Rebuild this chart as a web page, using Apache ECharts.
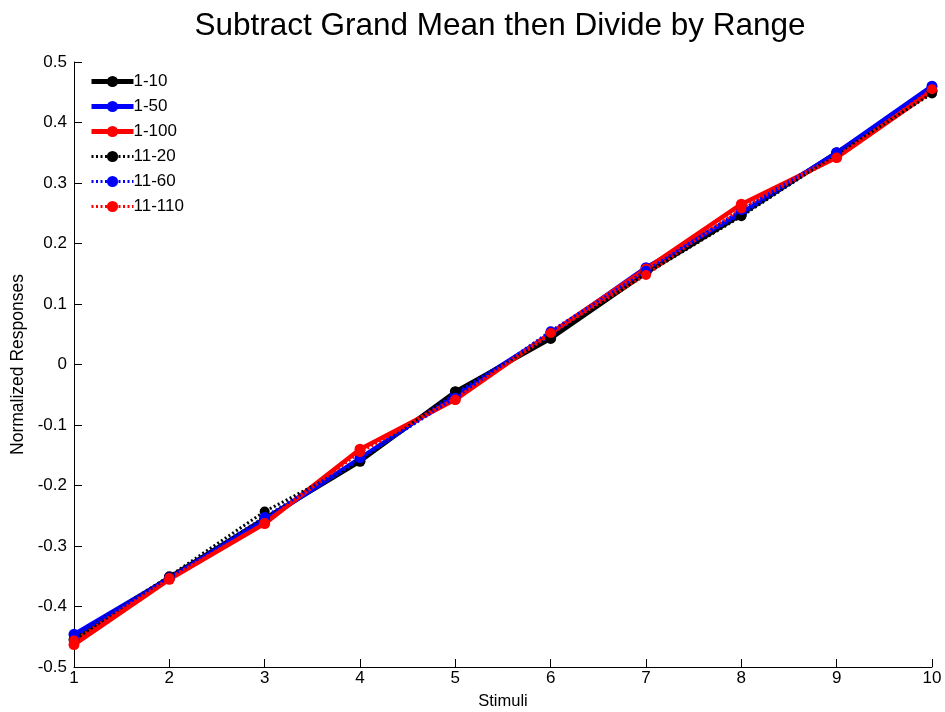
<!DOCTYPE html>
<html>
<head>
<meta charset="utf-8">
<script src="https://cdn.jsdelivr.net/npm/echarts@6/dist/echarts.min.js"></script>
<style>
  html, body { margin: 0; padding: 0; background: #fff; }
  #chart { width: 945px; height: 712px; }
</style>
</head>
<body>
<div id="chart"></div>
<script>
// Stimulus levels along the x axis
const stimuli = [1, 2, 3, 4, 5, 6, 7, 8, 9, 10];

// Normalized responses per stimulus range
const range_1_10   = [-0.455, -0.352, -0.255, -0.160, -0.045, 0.043, 0.152, 0.248, 0.350, 0.452];
const range_1_50   = [-0.446, -0.353, -0.258, -0.155, -0.050, 0.050, 0.160, 0.250, 0.350, 0.460];
const range_1_100  = [-0.463, -0.355, -0.263, -0.140, -0.058, 0.052, 0.158, 0.265, 0.342, 0.452];
const range_11_20  = [-0.450, -0.350, -0.243, -0.160, -0.045, 0.045, 0.150, 0.245, 0.348, 0.448];
const range_11_60  = [-0.450, -0.352, -0.252, -0.155, -0.055, 0.055, 0.155, 0.255, 0.350, 0.460];
const range_11_110 = [-0.456, -0.353, -0.262, -0.145, -0.058, 0.052, 0.148, 0.258, 0.342, 0.455];

// Y tick values
const yTicks = [-0.5, -0.4, -0.3, -0.2, -0.1, 0, 0.1, 0.2, 0.3, 0.4, 0.5];

const FONT = 'Liberation Sans, Arial, sans-serif';
const DOT_DASH = [2, 2.5];

function pairs(values) {
  return stimuli.map((s, i) => [s, values[i]]);
}

function solid(name, values, color) {
  return {
    name, type: 'line', data: pairs(values),
    symbol: 'circle', symbolSize: 11,
    itemStyle: { color },
    lineStyle: { color, width: 4.5, type: 'solid' },
    emphasis: { disabled: true },
    animation: false
  };
}

function dotted(name, values, color) {
  return {
    name, type: 'line', data: pairs(values),
    symbol: 'circle', symbolSize: 10,
    itemStyle: { color },
    lineStyle: { color, width: 3, type: DOT_DASH },
    emphasis: { disabled: true },
    animation: false
  };
}

const chart = echarts.init(document.getElementById('chart'), null, { renderer: 'canvas' });

chart.setOption({
  backgroundColor: '#ffffff',
  textStyle: { fontFamily: FONT },
  graphic: [{
    type: 'text',
    x: 500, y: 26,
    style: {
      text: 'Subtract Grand Mean then Divide by Range',
      font: '31.5px ' + FONT,
      fill: '#000',
      textAlign: 'center',
      textVerticalAlign: 'middle'
    }
  }],
  grid: {
    left: 74, right: 13, top: 62, bottom: 45,
    containLabel: false,
    outerBoundsMode: 'none'
  },
  legend: {
    orient: 'vertical',
    left: 84, top: 68,
    itemWidth: 42, itemHeight: 14,
    itemGap: 8,
    textStyle: { fontFamily: FONT, fontSize: 17, color: '#000', padding: [0, 0, 0, -5] },
    data: [
      { name: '1-10', lineStyle: { width: 5, type: 'solid' } },
      { name: '1-50', lineStyle: { width: 5, type: 'solid' } },
      { name: '1-100', lineStyle: { width: 5, type: 'solid' } },
      { name: '11-20', lineStyle: { width: 3, type: DOT_DASH } },
      { name: '11-60', lineStyle: { width: 3, type: DOT_DASH } },
      { name: '11-110', lineStyle: { width: 3, type: DOT_DASH } }
    ]
  },
  xAxis: {
    type: 'value',
    min: 1, max: 10, interval: 1,
    name: 'Stimuli',
    nameLocation: 'middle',
    nameGap: 26,
    nameTextStyle: { fontFamily: FONT, fontSize: 16.5, color: '#000' },
    axisLine: { onZero: false, lineStyle: { color: '#000', width: 1 } },
    axisTick: { inside: true, length: 8, lineStyle: { color: '#000' } },
    axisLabel: { fontFamily: FONT, fontSize: 17, color: '#000', margin: 3 },
    splitLine: { show: false }
  },
  yAxis: {
    type: 'value',
    min: yTicks[0], max: yTicks[yTicks.length - 1], interval: 0.1,
    name: 'Normalized Responses',
    nameLocation: 'middle',
    nameGap: 44,
    nameTextStyle: { fontFamily: FONT, fontSize: 17.5, color: '#000' },
    axisLine: { onZero: false, lineStyle: { color: '#000', width: 1 } },
    axisTick: { inside: true, length: 8, lineStyle: { color: '#000' } },
    axisLabel: {
      fontFamily: FONT, fontSize: 17, color: '#000', margin: 7,
      formatter: v => String(Math.round(v * 10) / 10)
    },
    splitLine: { show: false }
  },
  series: [
    solid('1-10', range_1_10, '#000000'),
    solid('1-50', range_1_50, '#0000ff'),
    solid('1-100', range_1_100, '#ff0000'),
    dotted('11-20', range_11_20, '#000000'),
    dotted('11-60', range_11_60, '#0000ff'),
    dotted('11-110', range_11_110, '#ff0000')
  ]
});
</script>
</body>
</html>
